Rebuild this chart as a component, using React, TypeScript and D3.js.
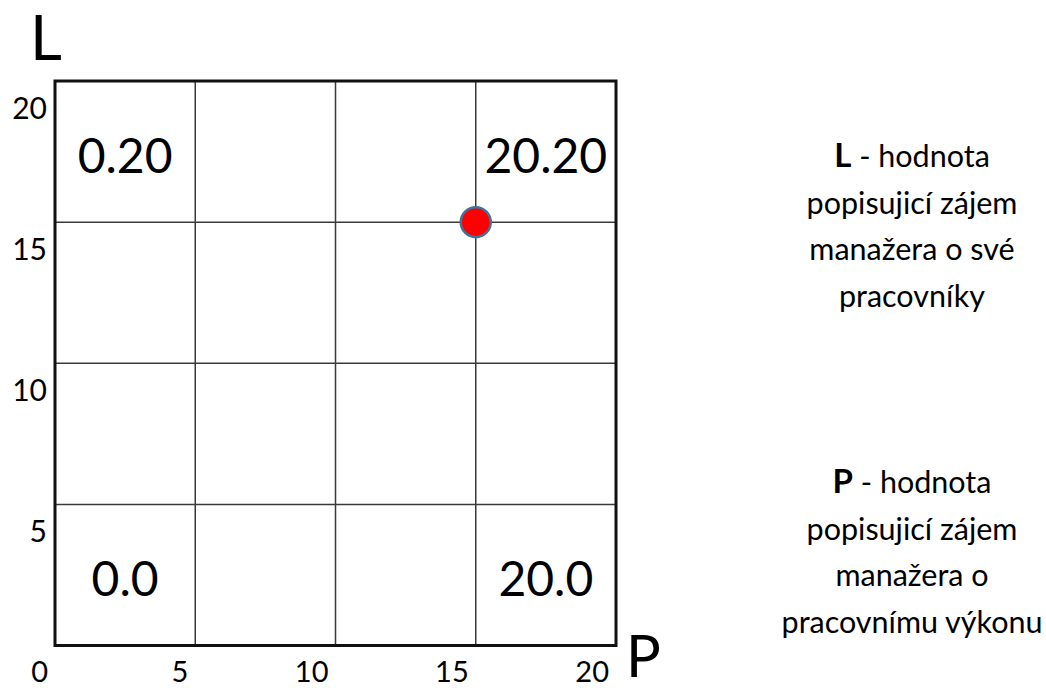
import React, { useEffect, useRef } from "react";
import * as d3 from "d3";

const ticks = [0, 5, 10, 15, 20];
const gridValues = [5, 10, 15];
const quadrantLabels = [
  { text: "0.20", x: 2.5, y: 16.75 },
  { text: "20.20", x: 17.5, y: 16.75 },
  { text: "0.0", x: 2.5, y: 1.75 },
  { text: "20.0", x: 17.5, y: 1.75 },
];
const points = [{ p: 15, l: 15 }];
const legendL = ["popisujicí zájem", "manažera o své", "pracovníky"];
const legendP = ["popisujicí zájem", "manažera o", "pracovnímu výkonu"];

const W = 1046;
const H = 688;
const FONT = "Lato, 'Open Sans', sans-serif";

export default function App() {
  const ref = useRef<SVGSVGElement>(null);
  useEffect(() => {
    const svg = d3.select(ref.current);
    svg.selectAll("*").remove();
    const x = d3.scaleLinear().domain([0, 20]).range([55, 616]);
    const y = d3.scaleLinear().domain([0, 20]).range([645.5, 81]);
    const g = svg.append("g");

    // inner grid
    g.selectAll("line.v").data(gridValues).enter().append("line")
      .attr("x1", d => x(d)).attr("x2", d => x(d))
      .attr("y1", y(0)).attr("y2", y(20))
      .attr("stroke", "#3a3a3a").attr("stroke-width", 1.5);
    g.selectAll("line.h").data(gridValues).enter().append("line")
      .attr("y1", d => y(d)).attr("y2", d => y(d))
      .attr("x1", x(0)).attr("x2", x(20))
      .attr("stroke", "#3a3a3a").attr("stroke-width", 1.5);
    // outer box
    g.append("rect")
      .attr("x", x(0)).attr("y", y(20))
      .attr("width", x(20) - x(0)).attr("height", y(0) - y(20))
      .attr("fill", "none").attr("stroke", "#111").attr("stroke-width", 3);

    // y ticks
    g.selectAll("text.yt").data(ticks.filter(t => t > 0)).enter().append("text")
      .attr("x", 47).attr("y", d => y(d) + 38)
      .attr("text-anchor", "end").attr("font-family", FONT).attr("font-size", 30)
      .attr("fill", "#000").text(d => String(d));
    // x ticks
    g.selectAll("text.xt").data(ticks).enter().append("text")
      .attr("x", d => x(d) - 7).attr("y", 682)
      .attr("text-anchor", "end").attr("font-family", FONT).attr("font-size", 29)
      .attr("fill", "#000").text(d => String(d));

    // axis letters
    g.append("text").attr("x", 30).attr("y", 60).attr("font-family", FONT)
      .attr("font-size", 62).attr("fill", "#000").text("L");
    g.append("text").attr("x", 626).attr("y", 677).attr("font-family", FONT)
      .attr("font-size", 58).attr("fill", "#000").text("P");

    // quadrant labels
    g.selectAll("text.q").data(quadrantLabels).enter().append("text")
      .attr("x", d => x(d.x)).attr("y", d => y(d.y))
      .attr("text-anchor", "middle").attr("font-family", FONT).attr("font-size", 48)
      .attr("fill", "#000").text(d => d.text);

    // point
    g.selectAll("circle").data(points).enter().append("circle")
      .attr("cx", d => x(d.p)).attr("cy", d => y(d.l)).attr("r", 15)
      .attr("fill", "#ff0000").attr("stroke", "#41719c").attr("stroke-width", 2.5);

    // legends
    const cx = 912;
    const addLegend = (letter: string, lines: string[], y0: number) => {
      const t = g.append("text").attr("x", cx).attr("y", y0).attr("text-anchor", "middle")
        .attr("font-family", FONT).attr("font-size", 30.5).attr("fill", "#000");
      t.append("tspan").attr("font-weight", "bold").attr("font-size", 33).text(letter);
      t.append("tspan").text(" - hodnota");
      lines.forEach((ln, i) => {
        g.append("text").attr("x", cx).attr("y", y0 + 46.5 * (i + 1)).attr("text-anchor", "middle")
          .attr("font-family", FONT).attr("font-size", 30.5).attr("fill", "#000").text(ln);
      });
    };
    addLegend("L", legendL, 167);
    addLegend("P", legendP, 493);
  }, []);
  return (
    <svg ref={ref} width={W} height={H}
      style={{ position: "absolute", left: 0, top: 0, background: "#fff" }} />
  );
}
